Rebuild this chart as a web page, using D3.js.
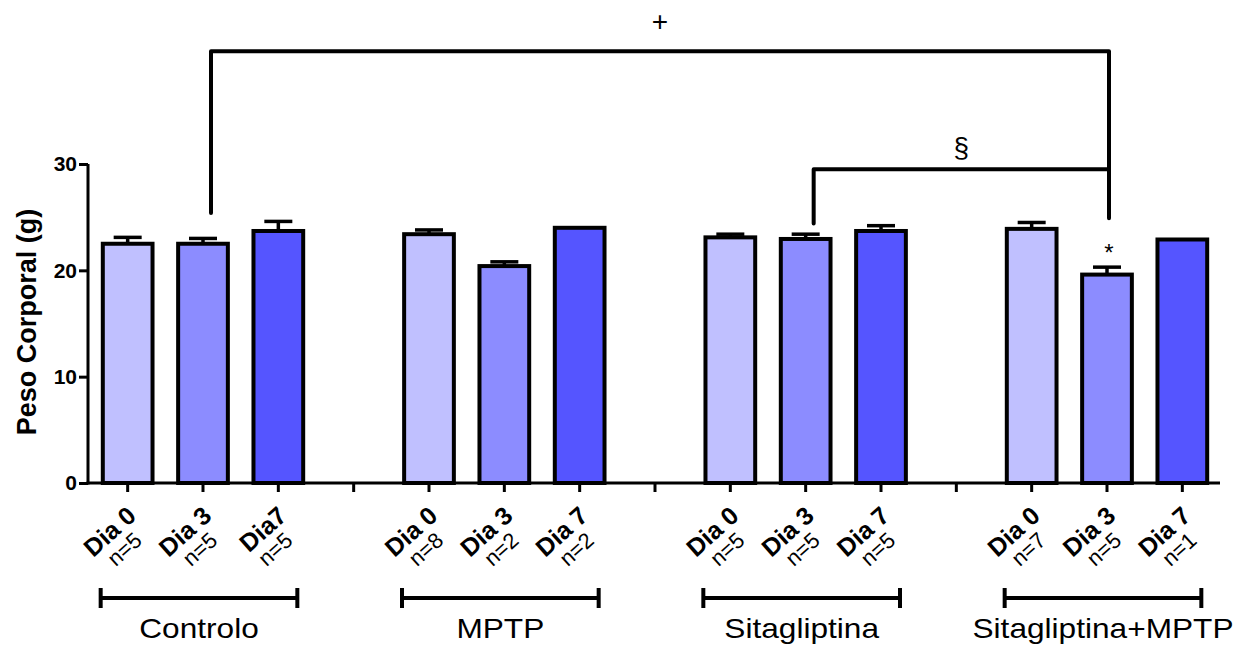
<!DOCTYPE html>
<html>
<head>
<meta charset="utf-8">
<script src="https://cdn.jsdelivr.net/npm/d3@7"></script>
<style>
  body { margin: 0; background: #fff; }
  svg { font-family: "Liberation Sans", Arial, sans-serif; }
  .axis path, .axis line { stroke: #000; stroke-width: 3; }
</style>
</head>
<body>
<div id="chart"></div>
<script>
// data
var groups = ["Controlo", "MPTP", "Sitagliptina", "Sitagliptina+MPTP"];
var dayLabels = ["Dia 0", "Dia 3", "Dia7", "Dia 0", "Dia 3", "Dia 7", "Dia 0", "Dia 3", "Dia 7", "Dia 0", "Dia 3", "Dia 7"];
var nLabels = ["n=5", "n=5", "n=5", "n=8", "n=2", "n=2", "n=5", "n=5", "n=5", "n=7", "n=5", "n=1"];
var means = [22.5, 22.5, 23.7, 23.4, 20.4, 24.0, 23.1, 22.95, 23.7, 23.9, 19.6, 22.9];
var sems = [0.6, 0.5, 0.9, 0.4, 0.4, 0, 0.3, 0.45, 0.5, 0.6, 0.7, 0];
var dayColors = ["#c0c0ff", "#8c8cff", "#5555ff"];
var yTicks = [0, 10, 20, 30];

var width = 1246,
    height = 645;

var svg = d3.select("#chart").append("svg")
    .attr("width", width)
    .attr("height", height);

// 15 slots: 3 bars per group plus an empty slot between groups
var slots = [];
groups.forEach(function (g, gi) {
    for (var k = 0; k < 3; k++) slots.push("b" + (gi * 3 + k));
    if (gi < groups.length - 1) slots.push("gap" + gi);
});

var x = d3.scaleBand()
    .domain(slots)
    .range([90, 1220]);

var y = d3.scaleLinear()
    .domain([0, 30])
    .range([483, 164]);

var bw = x.bandwidth() * 0.66;
function cx(i) { return x("b" + i) + x.bandwidth() / 2; }

// y axis
var yAxis = svg.append("g")
    .attr("class", "axis")
    .attr("transform", "translate(88,0)")
    .call(d3.axisLeft(y).tickValues(yTicks).tickSize(9).tickSizeOuter(0));
yAxis.selectAll("text")
    .attr("font-size", 21)
    .attr("font-weight", "bold")
    .attr("fill", "#000")
    .attr("x", -11)
    .attr("font-family", "Liberation Sans, Arial, sans-serif");
yAxis.select(".domain").attr("d", "M0," + y(30) + "V" + (y(0) + 1.5));

// x axis
var xAxis = svg.append("g")
    .attr("class", "axis")
    .attr("transform", "translate(0," + y(0) + ")")
    .call(d3.axisBottom(x).tickSize(9).tickSizeOuter(0).tickFormat(""));
xAxis.select(".domain").attr("d", "M86.5,0H1220");

svg.append("text")
    .attr("transform", "translate(36,322) rotate(-90)")
    .attr("text-anchor", "middle")
    .attr("font-size", 27)
    .attr("font-weight", "bold")
    .text("Peso Corporal (g)");

// bars
var bars = svg.append("g");
means.forEach(function (m, i) {
    var c = cx(i);
    if (sems[i] > 0) {
        bars.append("line")
            .attr("x1", c).attr("x2", c)
            .attr("y1", y(m)).attr("y2", y(m + sems[i]))
            .attr("stroke", "#000").attr("stroke-width", 3.5);
        bars.append("line")
            .attr("x1", c - 14).attr("x2", c + 14)
            .attr("y1", y(m + sems[i])).attr("y2", y(m + sems[i]))
            .attr("stroke", "#000").attr("stroke-width", 3.5);
    }
    bars.append("rect")
        .attr("x", c - bw / 2)
        .attr("y", y(m))
        .attr("width", bw)
        .attr("height", y(0) - y(m))
        .attr("fill", dayColors[i % 3])
        .attr("stroke", "#000")
        .attr("stroke-width", 4);
});

// rotated tick labels
means.forEach(function (m, i) {
    var t = svg.append("g")
        .attr("transform", "translate(" + (cx(i) + 10) + ",518) rotate(-42)");
    t.append("text")
        .attr("text-anchor", "end")
        .attr("font-size", 25)
        .attr("font-weight", "bold")
        .text(dayLabels[i]);
    t.append("text")
        .attr("text-anchor", "end")
        .attr("x", -12)
        .attr("y", 22)
        .attr("font-size", 22)
        .text(nLabels[i]);
});

// group brackets
groups.forEach(function (g, gi) {
    var x0 = cx(gi * 3) - 27,
        x1 = cx(gi * 3 + 2) + 19,
        yb = 598;
    svg.append("path")
        .attr("d", "M" + x0 + "," + (yb - 10) + "V" + (yb + 10) + "M" + x0 + "," + yb + "H" + x1 + "M" + x1 + "," + (yb - 10) + "V" + (yb + 10))
        .attr("fill", "none")
        .attr("stroke", "#000")
        .attr("stroke-width", 4);
    svg.append("text")
        .attr("transform", "translate(" + ((x0 + x1) / 2) + ",638) scale(1.13,1)")
        .attr("text-anchor", "middle")
        .attr("font-size", 28)
        .text(g);
});

// significance brackets
function sig(i0, i1, level, end0, end1, label, dy) {
    var xa = cx(i0) + 8, xb = cx(i1) + 2;
    svg.append("path")
        .attr("d", "M" + xa + "," + y(end0) + "V" + y(level) + "H" + xb + "V" + y(end1))
        .attr("fill", "none")
        .attr("stroke", "#000")
        .attr("stroke-width", 4)
        .attr("stroke-linejoin", "round")
        .attr("stroke-linecap", "round");
    svg.append("text")
        .attr("x", (xa + xb) / 2)
        .attr("y", y(level) - dy)
        .attr("text-anchor", "middle")
        .attr("font-size", 28)
        .text(label);
}
sig(1, 10, 40.6, 25.4, 24.9, "+", 20);
sig(7, 10, 29.5, 24.4, 29.5, "§", 12);

// asterisk over Sitagliptina+MPTP Dia 3
svg.append("text")
    .attr("x", cx(10) + 2)
    .attr("y", y(means[10] + sems[10]) - 6)
    .attr("text-anchor", "middle")
    .attr("font-size", 24)
    .text("*");
</script>
</body>
</html>
